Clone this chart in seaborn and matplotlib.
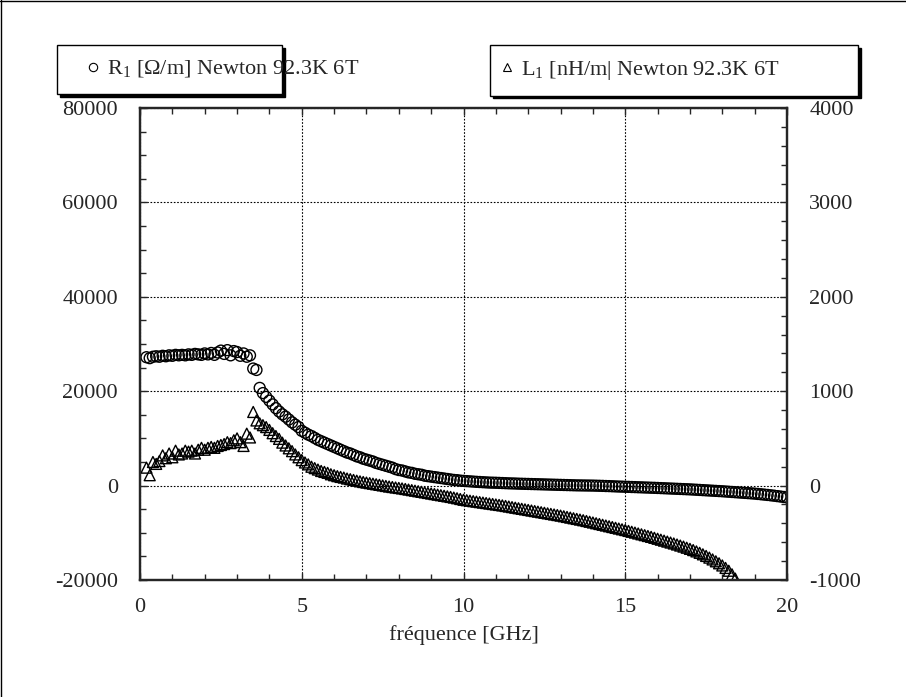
import matplotlib
matplotlib.use('Agg')
import matplotlib.pyplot as plt
import matplotlib.ticker as mticker
from matplotlib.lines import Line2D
import seaborn as sns

# frequency sweep [GHz]
freq = [
    0.2, 0.3, 0.4, 0.5, 0.6, 0.7, 0.8, 0.9,
    1.0, 1.1, 1.2, 1.3, 1.4, 1.5, 1.6, 1.7, 1.8, 1.9,
    2.0, 2.1, 2.2, 2.3, 2.4, 2.5, 2.6, 2.7, 2.8, 2.9,
    3.0, 3.1, 3.2, 3.3, 3.4, 3.5, 3.6, 3.7, 3.8, 3.9,
    4.0, 4.1, 4.2, 4.3, 4.4, 4.5, 4.6, 4.7, 4.8, 4.9,
    5.0, 5.1, 5.2, 5.3, 5.4, 5.5, 5.6, 5.7, 5.8, 5.9,
    6.0, 6.1, 6.2, 6.3, 6.4, 6.5, 6.6, 6.7, 6.8, 6.9,
    7.0, 7.1, 7.2, 7.3, 7.4, 7.5, 7.6, 7.7, 7.8, 7.9,
    8.0, 8.1, 8.2, 8.3, 8.4, 8.5, 8.6, 8.7, 8.8, 8.9,
    9.0, 9.1, 9.2, 9.3, 9.4, 9.5, 9.6, 9.7, 9.8, 9.9,
    10.0, 10.1, 10.2, 10.3, 10.4, 10.5, 10.6, 10.7, 10.8, 10.9,
    11.0, 11.1, 11.2, 11.3, 11.4, 11.5, 11.6, 11.7, 11.8, 11.9,
    12.0, 12.1, 12.2, 12.3, 12.4, 12.5, 12.6, 12.7, 12.8, 12.9,
    13.0, 13.1, 13.2, 13.3, 13.4, 13.5, 13.6, 13.7, 13.8, 13.9,
    14.0, 14.1, 14.2, 14.3, 14.4, 14.5, 14.6, 14.7, 14.8, 14.9,
    15.0, 15.1, 15.2, 15.3, 15.4, 15.5, 15.6, 15.7, 15.8, 15.9,
    16.0, 16.1, 16.2, 16.3, 16.4, 16.5, 16.6, 16.7, 16.8, 16.9,
    17.0, 17.1, 17.2, 17.3, 17.4, 17.5, 17.6, 17.7, 17.8, 17.9,
    18.0, 18.1, 18.2, 18.3, 18.4, 18.5, 18.6, 18.7, 18.8, 18.9,
    19.0, 19.1, 19.2, 19.3, 19.4, 19.5, 19.6, 19.7, 19.8, 19.9,
    20.0,
]

# R1 [Ohm/m], left axis
r_vals = [
    27200, 27000, 27300, 27400, 27300, 27500, 27400, 27600,
    27500, 27700, 27600, 27700, 27600, 27800, 27700, 27900, 27800, 27700,
    28000, 27800, 28100, 27700, 28200, 28600, 27900, 28700, 27600, 28500,
    28300, 27500, 28000, 27300, 27600, 24800, 24500, 20700, 19600, 18800,
    18000, 17200, 16400, 15700, 15100, 14600, 14000, 13400, 12900, 12400,
    11600, 11200, 10800, 10500, 10100, 9700, 9400, 9100, 8800, 8500,
    8200, 7900, 7600, 7300, 7000, 6800, 6500, 6200, 6000, 5700,
    5500, 5300, 5100, 4800, 4600, 4400, 4200, 4000, 3800, 3500,
    3300, 3200, 3000, 2800, 2700, 2500, 2400, 2300, 2100, 2000,
    1900, 1800, 1700, 1600, 1500, 1400, 1300, 1200, 1150, 1050,
    1000, 950, 900, 850, 800, 760, 720, 680, 640, 620,
    600, 570, 540, 510, 480, 460, 440, 410, 390, 370,
    350, 330, 310, 290, 270, 250, 230, 210, 190, 170,
    150, 130, 110, 90, 70, 50, 40, 30, 20, 10,
    0, -20, -40, -60, -90, -110, -140, -170, -200, -220,
    -250, -270, -300, -320, -350, -370, -400, -420, -450, -470,
    -500, -530, -560, -590, -620, -650, -680, -710, -740, -770,
    -800, -840, -880, -920, -960, -1000, -1040, -1080, -1120, -1160,
    -1200, -1250, -1300, -1350, -1400, -1450, -1500, -1550, -1600, -1650,
    -1700, -1770, -1840, -1910, -1980, -2060, -2140, -2230, -2320, -2410,
    -2500,
]

# L1 [nH/m], right axis (runs out of range below -1000 after 18.4 GHz)
l_vals = [
    190, 110, 250, 230, 260, 320, 290, 340,
    300, 370, 330, 340, 370, 360, 370, 340, 380, 400,
    380, 400, 410, 400, 420, 430, 440, 460, 450, 480,
    500, 460, 420, 550, 510, 780, 690, 660, 640, 620,
    590, 555, 525, 495, 455, 425, 395, 365, 330, 300,
    270, 245, 225, 200, 185, 170, 155, 145, 135, 120,
    110, 100, 92, 85, 75, 68, 60, 52, 45, 38,
    32, 26, 20, 14, 8, 2, -4, -10, -15, -20,
    -25, -30, -36, -42, -48, -54, -60, -66, -72, -78,
    -84, -90, -96, -102, -108, -114, -120, -127, -134, -142,
    -150, -155, -160, -165, -170, -175, -180, -185, -190, -195,
    -200, -205, -210, -216, -222, -228, -234, -240, -246, -252,
    -258, -264, -270, -276, -282, -288, -294, -300, -306, -312,
    -318, -325, -332, -339, -346, -353, -360, -367, -375, -383,
    -391, -399, -407, -415, -423, -431, -439, -447, -455, -463,
    -471, -480, -489, -498, -507, -516, -525, -534, -543, -553,
    -563, -573, -583, -593, -603, -613, -624, -635, -646, -658,
    -670, -683, -697, -712, -728, -745, -763, -782, -802, -823,
    -846, -872, -902, -940, -985,
]

r_label = r'R$_\mathregular{1}$ [Ω/m] Newton 92.3K 6T'
l_label = r'L$_\mathregular{1}$ [nH/m| Newton 92.3K 6T'

sns.set_style('ticks')
plt.rcParams['font.family'] = ['Liberation Serif', 'DejaVu Serif']
plt.rcParams['mathtext.fontset'] = 'custom'
plt.rcParams['mathtext.rm'] = 'Liberation Serif'
plt.rcParams['axes.unicode_minus'] = False
plt.rcParams['font.size'] = 16

fig = plt.figure(figsize=(9.06, 6.97), dpi=100)
ax = fig.add_axes([140 / 906, 1 - 580 / 697, 647 / 906, 472 / 697])
ax2 = ax.twinx()

sns.scatterplot(x=freq, y=r_vals, ax=ax, marker='o', s=62,
                facecolor='none', edgecolor='black', linewidth=1.0, legend=False)
sns.scatterplot(x=freq[:len(l_vals)], y=l_vals, ax=ax2, marker='^', s=62,
                facecolor='none', edgecolor='black', linewidth=1.0, legend=False)

ax.set_xlim(0, 20)
ax.set_ylim(-20000, 80000)
ax2.set_ylim(-1000, 4000)

ax.xaxis.set_major_locator(mticker.MultipleLocator(5))
ax.xaxis.set_minor_locator(mticker.MultipleLocator(1))
ax.yaxis.set_major_locator(mticker.MultipleLocator(20000))
ax.yaxis.set_minor_locator(mticker.MultipleLocator(5000))
ax2.yaxis.set_major_locator(mticker.MultipleLocator(1000))
ax2.yaxis.set_minor_locator(mticker.MultipleLocator(200))
ax.yaxis.set_major_formatter(mticker.FormatStrFormatter('%d'))
ax2.yaxis.set_major_formatter(mticker.FormatStrFormatter('%d'))

ax.tick_params(axis='x', which='both', direction='in', top=True, bottom=True, pad=13)
ax.tick_params(axis='y', which='both', direction='in', left=True, right=False, pad=16)
ax2.tick_params(axis='y', which='both', direction='in', right=True, pad=16)
for a in (ax, ax2):
    a.tick_params(which='major', length=5, width=1, labelsize=16)
    a.tick_params(which='minor', length=4, width=1)
    for s in a.spines.values():
        s.set_linewidth(1.6)

ax.grid(True, which='major', color='black', linestyle=(0, (1.5, 1.5)), linewidth=0.8)
ax2.grid(False)
ax.set_ylabel('')
ax2.set_ylabel('')
ax.set_xlabel('fréquence [GHz]', fontsize=16, labelpad=6)

h_r = Line2D([], [], linestyle='none', marker='o', markersize=6,
             markerfacecolor='none', markeredgecolor='black', markeredgewidth=0.8)
h_l = Line2D([], [], linestyle='none', marker='^', markersize=6,
             markerfacecolor='none', markeredgecolor='black', markeredgewidth=0.8)

shadow = {'color': 'black', 'alpha': 1}
leg1 = fig.legend([h_r], [r_label], loc='upper left',
                  bbox_to_anchor=(57 / 906, 1 - 45 / 697, 225 / 906, 0),
                  mode='expand', borderaxespad=0, borderpad=0.62,
                  handlelength=1.98, handletextpad=-0.36, fontsize=16,
                  fancybox=False, shadow=shadow, framealpha=1, edgecolor='black')
leg2 = fig.legend([h_l], [l_label], loc='upper left',
                  bbox_to_anchor=(490 / 906, 1 - 45 / 697, 368 / 906, 0),
                  mode='expand', borderaxespad=0, borderpad=0.62,
                  handlelength=0.33, handletextpad=0.46, fontsize=16,
                  fancybox=False, shadow=shadow, framealpha=1, edgecolor='black')
for leg in (leg1, leg2):
    leg.get_frame().set_linewidth(1)

# page frame on left and top edges
fig.add_artist(Line2D([0.0015, 0.0015], [0, 1], transform=fig.transFigure, color='black', lw=1))
fig.add_artist(Line2D([0, 1], [0.9985, 0.9985], transform=fig.transFigure, color='black', lw=1))

fig.savefig('out.png', dpi=100)
